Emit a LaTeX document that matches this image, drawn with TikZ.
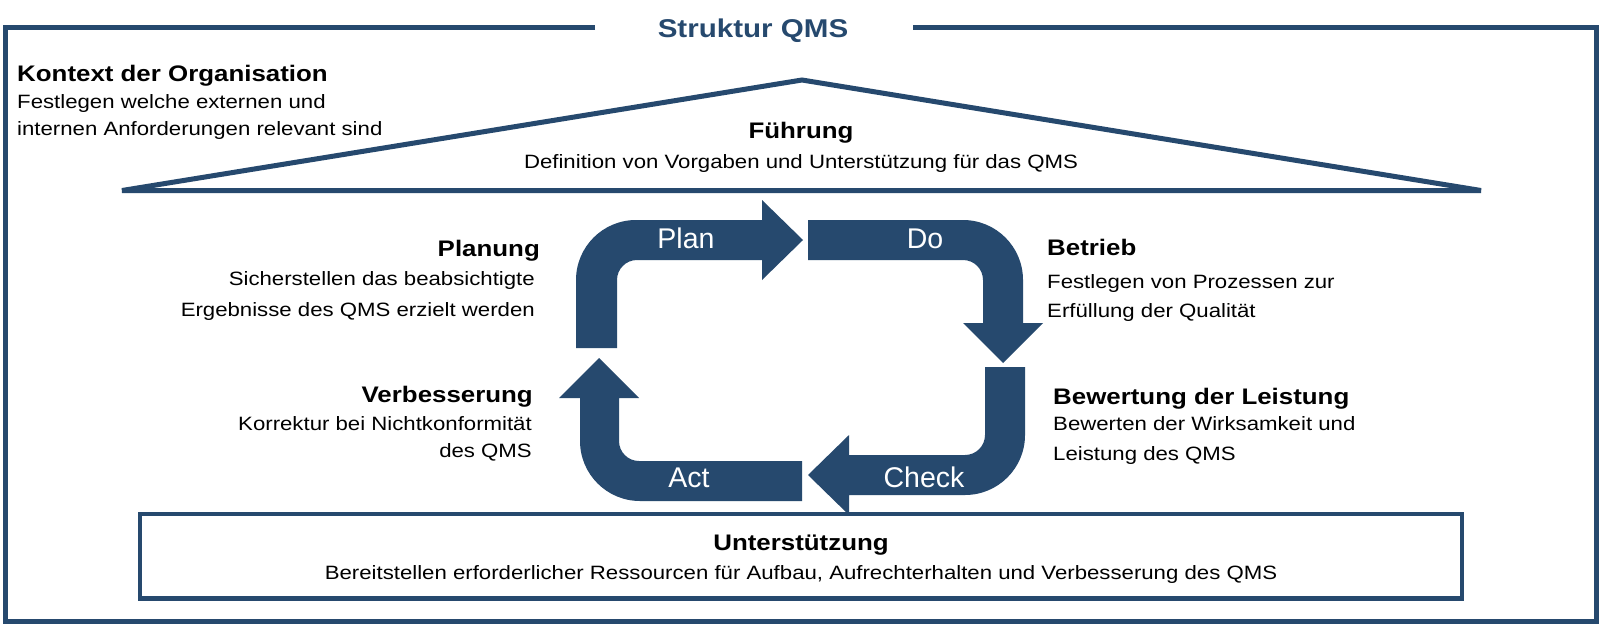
\documentclass[tikz,border=0pt]{standalone}
\usepackage{fontspec}
\setmainfont{Liberation Sans}
\newfontfamily\qmsfont[FakeStretch=1.15]{Liberation Sans}
\definecolor{qmsblue}{RGB}{38,73,110}

\tikzset{
  frameline/.style={draw=qmsblue,line width=5pt},
  cyclearrow/.style={fill=qmsblue},
  cyclelabel/.style={anchor=base,text=white,font=\fontsize{28.5}{30}\selectfont},
  headtext/.style={inner sep=0pt,font=\fontsize{22.5}{27}\selectfont\qmsfont\bfseries},
  desctext/.style={inner sep=0pt,font=\fontsize{19.3}{28.5}\selectfont\qmsfont},
}

\begin{document}
\begin{tikzpicture}[x=1pt,y=1pt]
\fill[white] (0,0) rectangle (1600,-624);
\useasboundingbox (0,0) rectangle (1600,-624);

% frame and roof
\draw[frameline] (595,-27) -- (5,-27) -- (5,-621.5) -- (1596.5,-621.5) -- (1596.5,-27) -- (913,-27);
\node[anchor=base,inner sep=0pt,text=qmsblue,font=\fontsize{25.7}{30}\selectfont\qmsfont\bfseries] (title) at (753,-37) {Struktur QMS};

\draw[frameline] (122,-190.5) -- (802,-80) -- (1481,-190.5) -- cycle;
\draw[frameline,line width=4.5pt] (140,-514) rectangle (1462,-598.5);

% PDCA cycle
\fill[cyclearrow] (576,-348) -- (576,-280) arc[start angle=180,end angle=90,radius=60pt] -- (762,-220) -- (762,-200) -- (803,-240) -- (762,-280) -- (762,-260) -- (637,-260) arc[start angle=90,end angle=180,radius=20pt] -- (617,-348) -- cycle;
\fill[cyclearrow] (808,-220) -- (963,-220) arc[start angle=90,end angle=0,radius=60pt] -- (1023,-323) -- (1043,-323) -- (1003,-363) -- (963,-323) -- (983,-323) -- (983,-280) arc[start angle=0,end angle=90,radius=20pt] -- (808,-260) -- cycle;
\fill[cyclearrow] (985,-367) -- (1025,-367) -- (1025,-435) arc[start angle=0,end angle=-90,radius=60pt] -- (849,-495) -- (849,-515) -- (808,-475) -- (849,-435) -- (849,-455) -- (965,-455) arc[start angle=-90,end angle=0,radius=20pt] -- cycle;
\fill[cyclearrow] (802,-461) -- (639,-461) arc[start angle=-90,end angle=-180,radius=20pt] -- (619,-398) -- (639,-398) -- (599,-358) -- (559,-398) -- (580,-398) -- (580,-441) arc[start angle=180,end angle=270,radius=60pt] -- (802,-501) -- cycle;

\node[cyclelabel] (plan) at (686,-248) {Plan};
\node[cyclelabel] (do) at (925,-248) {Do};
\node[cyclelabel] (check) at (924,-487) {Check};
\node[cyclelabel] (act) at (689,-487) {Act};

% texts (base of a two-line text is its last line)
\node[headtext,anchor=base west] (kontext) at (17,-81) {Kontext der Organisation};
\node[desctext,anchor=base west,align=left,font=\fontsize{19.3}{27}\selectfont\qmsfont] (kontextdesc) at (17,-135) {Festlegen welche externen und\\internen Anforderungen relevant sind};

\node[headtext,anchor=base] (fuehrung) at (801,-138) {Führung};
\node[desctext,anchor=base] (fuehrungdesc) at (801,-168) {Definition von Vorgaben und Unterstützung für das QMS};

\node[headtext,anchor=base east] (planung) at (540,-256) {Planung};
\node[desctext,anchor=base east,align=right,font=\fontsize{19.3}{31}\selectfont\qmsfont] (planungdesc) at (535,-316) {Sicherstellen das beabsichtigte\\Ergebnisse des QMS erzielt werden};

\node[headtext,anchor=base east] (verbesserung) at (533,-402) {Verbesserung};
\node[desctext,anchor=base east,align=right,font=\fontsize{19.3}{27}\selectfont\qmsfont] (verbesserungdesc) at (532,-457) {Korrektur bei Nichtkonformität\\des QMS};

\node[headtext,anchor=base west] (betrieb) at (1047,-255) {Betrieb};
\node[desctext,anchor=base west,align=left] (betriebdesc) at (1047,-317) {Festlegen von Prozessen zur\\Erfüllung der Qualität};

\node[headtext,anchor=base west] (bewertung) at (1053,-404) {Bewertung der Leistung};
\node[desctext,anchor=base west,align=left,font=\fontsize{19.3}{29.5}\selectfont\qmsfont] (bewertungdesc) at (1053,-460) {Bewerten der Wirksamkeit und\\Leistung des QMS};

\node[headtext,anchor=base] (unterstuetzung) at (801,-550) {Unterstützung};
\node[desctext,anchor=base] (unterstuetzungdesc) at (801,-579) {Bereitstellen erforderlicher Ressourcen für Aufbau, Aufrechterhalten und Verbesserung des QMS};

\end{tikzpicture}
\end{document}
